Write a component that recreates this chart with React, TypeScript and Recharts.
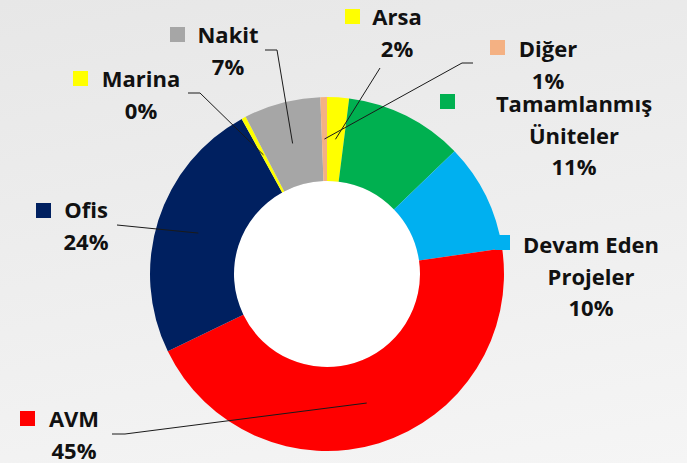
import { PieChart, Pie, Cell } from 'recharts'

// portfolio split (clockwise from 12 o'clock)
const CATEGORIES = ['Arsa', 'Tamamlanmış Üniteler', 'Devam Eden Projeler', 'AVM', 'Ofis', 'Marina', 'Nakit', 'Diğer']
const SHARES = [2.0, 10.8, 9.9, 45.1, 24.2, 0.4, 7.0, 0.6]
const COLORS = ['#ffff00', '#00b050', '#00b0f0', '#ff0000', '#002060', '#ffff00', '#a6a6a6', '#f4b183']

const DATA = CATEGORIES.map((name, i) => ({ name, value: SHARES[i] }))

const CX = 327
const CY = 274
const INNER = 93
const OUTER = 177
const FONT = '"Open Sans", Lato, sans-serif'
const LINE_H = 31.5

// label placement (Excel moved them by hand); leader = points before the slice anchor
type LabelPos = { x: number; y: number; key: [number, number]; wrap?: boolean; leader?: [number, number][] }
const LABEL_POS: LabelPos[] = [
  { x: 397, y: 25, key: [345, 9], leader: [[380, 68]] },
  { x: 574, y: 112, key: [440, 94], wrap: true },
  { x: 591, y: 253, key: [495, 235], wrap: true },
  { x: 74, y: 427, key: [20, 411], leader: [[112, 434], [125, 434]] },
  { x: 86, y: 218, key: [36, 203], leader: [[117, 225], [157, 229]] },
  { x: 141, y: 87, key: [73, 71], leader: [[188, 93], [200, 93]] },
  { x: 228, y: 43, key: [170, 27], leader: [[265, 50], [277, 50]] },
  { x: 548, y: 57, key: [490, 40], leader: [[473, 63], [462, 63]] },
]

const RAD = Math.PI / 180

// break the category name at its last space
function wrapName(name: string): string[] {
  const cut = name.lastIndexOf(' ')
  return cut < 0 ? [name] : [name.slice(0, cut), name.slice(cut + 1)]
}

function SliceLabel(props: any) {
  const { cx, cy, midAngle, innerRadius, outerRadius, percent, index, name } = props
  const pos = LABEL_POS[index]
  if (!pos) return null
  const r = (innerRadius + outerRadius) / 2
  const ax = cx + r * Math.cos(-midAngle * RAD)
  const ay = cy + r * Math.sin(-midAngle * RAD)
  const lines: string[] = pos.wrap ? wrapName(String(name)) : [String(name)]
  lines.push(`${Math.round(percent * 100)}%`)
  return (
    <g>
      {pos.leader && (
        <polyline
          points={[...pos.leader, [ax, ay]].map((p) => p.join(',')).join(' ')}
          fill="none" stroke="#1a1a1a" strokeWidth={1}
        />
      )}
      <rect x={pos.key[0]} y={pos.key[1]} width={15} height={15} fill={COLORS[index]} />
      {lines.map((t, i) => (
        <text key={i} x={pos.x} y={pos.y + i * LINE_H} textAnchor="middle"
          fontFamily={FONT} fontWeight={700} fontSize={22} fill="#111">
          {t}
        </text>
      ))}
    </g>
  )
}

export default function App() {
  return (
    <div style={{
      position: 'fixed', left: 0, top: 0, width: 687, height: 463,
      background: 'linear-gradient(170deg, #e7e7e7 0%, #f5f5f5 100%)',
    }}>
      <PieChart width={687} height={463} margin={{ top: 0, right: 0, bottom: 0, left: 0 }}>
        <Pie data={[{ v: 1 }]} dataKey="v" cx={CX} cy={CY} outerRadius={INNER} innerRadius={0}
          fill="#ffffff" stroke="none" isAnimationActive={false} />
        <Pie data={DATA} dataKey="value" nameKey="name" cx={CX} cy={CY}
          innerRadius={INNER} outerRadius={OUTER} startAngle={90} endAngle={-270}
          stroke="none" labelLine={false} label={SliceLabel} isAnimationActive={false}>
          {DATA.map((_, i) => <Cell key={i} fill={COLORS[i]} />)}
        </Pie>
      </PieChart>
    </div>
  )
}
